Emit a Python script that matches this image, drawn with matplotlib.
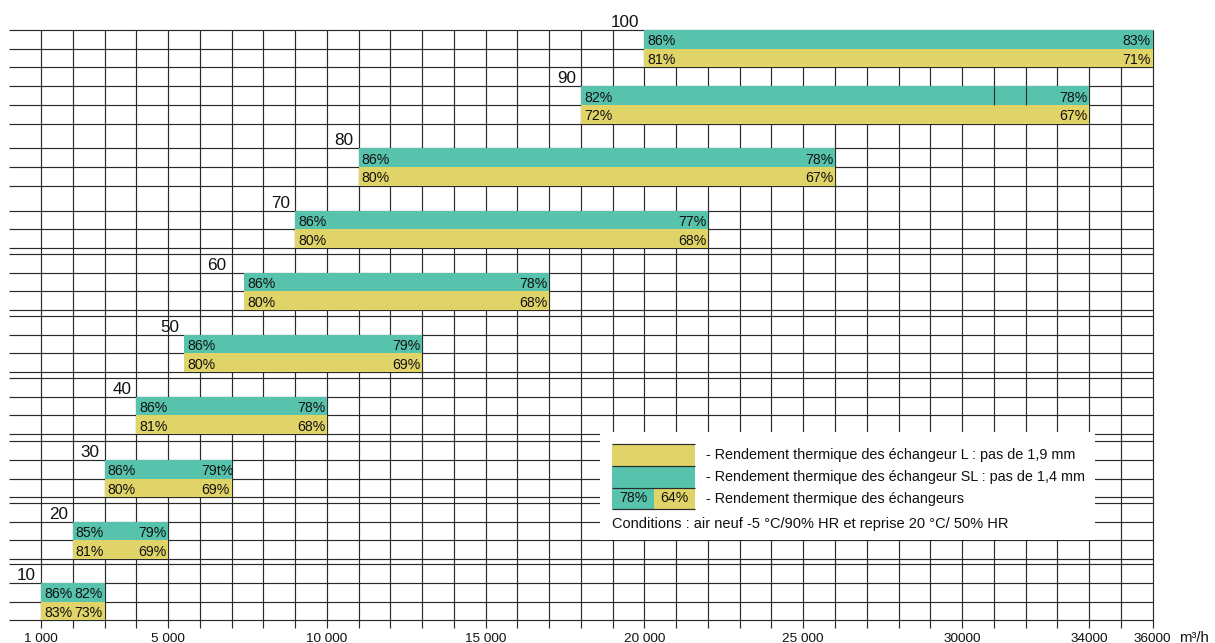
import matplotlib
matplotlib.use("Agg")
import matplotlib.pyplot as plt
from matplotlib.patches import Rectangle

plt.rcParams['font.family'] = ['Liberation Sans', 'DejaVu Sans']

# tailles de centrale et plage de débit (m3/h)
tailles = [10, 20, 30, 40, 50, 60, 70, 80, 90, 100]
debit_min = [1000, 2000, 3000, 4000, 5500, 7400, 9000, 11000, 18000, 20000]
debit_max = [3000, 5000, 7000, 10000, 13000, 17000, 22000, 26000, 34000, 36000]

# rendements échangeur SL (vert) et L (jaune) au débit min / max
sl_min = ['86%', '85%', '86%', '86%', '86%', '86%', '86%', '86%', '82%', '86%']
sl_max = ['82%', '79%', '79t%', '78%', '79%', '78%', '77%', '78%', '78%', '83%']
l_min = ['83%', '81%', '80%', '81%', '80%', '80%', '80%', '80%', '72%', '81%']
l_max = ['73%', '69%', '69%', '68%', '69%', '68%', '68%', '67%', '67%', '71%']

xticks = [1000, 5000, 10000, 15000, 20000, 25000, 30000, 34000, 36000]
xlabels = ['1 000', '5 000', '10 000', '15 000', '20 000', '25 000', '30000', '34000', '36000']

legend_txt = ['- Rendement thermique des échangeur L : pas de 1,9 mm',
              '- Rendement thermique des échangeur SL : pas de 1,4 mm',
              '- Rendement thermique des échangeurs']
conditions = 'Conditions : air neuf -5 °C/90% HR et reprise 20 °C/ 50% HR'

TEAL = '#58c3ac'
YEL = '#e0d468'
INK = '#111111'
GRID = '#2a2a2a'

W, H = 1215, 643
k = 31.76 / 1000.0          # pixels par m3/h
upp = 1.0 / k               # m3/h par pixel

# mise en page verticale (pixels depuis le haut)
row_h = 18.6
tops = [583.0, 521.7, 460.0, 396.7, 334.7, 272.7, 210.7, 148.3, 86.3, 30.0]
no_label_line = [70, 80, 90, 100]
label_at = [1000, 2000, 3000, 4000, 5500, 7000, 9000, 11000, 18000, 20000]

fig = plt.figure(figsize=(W / 100, H / 100), dpi=100)
ax = fig.add_axes([0, 0, 1, 1])
x0 = 1000 - 41 * upp
ax.set_xlim(x0, x0 + W * upp)
ax.set_ylim(H, 0)
ax.axis('off')

# grille
hl = []
for t, top in zip(tailles, tops):
    hl += [top, top + row_h, top + 2 * row_h]
    if t not in no_label_line:
        hl.append(top - row_h)
ax.hlines(hl, 0, 36000, color=GRID, lw=0.85, zorder=1)
ax.vlines(range(1000, 36001, 1000), 30, 628, color=GRID, lw=0.85, zorder=1)

# barres
largeur = [b - a for a, b in zip(debit_min, debit_max)]
ax.barh([t + row_h / 2 for t in tops], largeur, left=debit_min, height=row_h,
        color=TEAL, zorder=2)
ax.barh([t + 1.5 * row_h for t in tops], largeur, left=debit_min, height=row_h,
        color=YEL, zorder=2)

# traits de grille visibles à travers la barre 90
ax.vlines([31000, 32000], tops[8], tops[8] + row_h, color='#333333', lw=0.85, zorder=3)

for i, t in enumerate(tailles):
    top = tops[i]
    a, b = debit_min[i], debit_max[i]
    for j, (lo, hi) in enumerate([(sl_min[i], sl_max[i]), (l_min[i], l_max[i])]):
        yb = top + j * row_h + 15.3
        ax.text(a + 3 * upp, yb, lo, fontsize=10.2, color=INK, va='baseline', ha='left', zorder=4)
        ax.text(b - 30 * upp, yb, hi, fontsize=10.2, color=INK, va='baseline', ha='left', zorder=4)
    ax.text(label_at[i] - 5 * upp, top - 3, str(t), fontsize=12.3, color=INK,
            va='baseline', ha='right', zorder=4)

for v, s in zip(xticks, xlabels):
    ax.text(v, 642, s, fontsize=9.7, color=INK, ha='center', va='baseline')
ax.text(36000 + 26 * upp, 642, 'm³/h', fontsize=10.8, color=INK, ha='left', va='baseline')

# légende (coordonnées pixels)
lg = fig.add_axes([0, 0, 1, 1], zorder=5)
lg.set_xlim(0, W)
lg.set_ylim(H, 0)
lg.axis('off')
lg.add_patch(Rectangle((600, 432), 495, 108, facecolor='white', edgecolor='none'))
lg.add_patch(Rectangle((612, 444.3), 83, 21.7, facecolor=YEL, edgecolor='none'))
lg.add_patch(Rectangle((612, 466), 83, 21.5, facecolor=TEAL, edgecolor='none'))
lg.add_patch(Rectangle((612, 487.5), 42, 21.5, facecolor=TEAL, edgecolor='none'))
lg.add_patch(Rectangle((654, 487.5), 41, 21.5, facecolor=YEL, edgecolor='none'))
lg.hlines([444.3, 466, 487.5, 509], 612, 695, color=GRID, lw=0.85)
lg.text(633, 498.5, '78%', fontsize=10.2, color=INK, ha='center', va='center')
lg.text(674.5, 498.5, '64%', fontsize=10.2, color=INK, ha='center', va='center')
for y, s in zip([455, 477, 498.5], legend_txt):
    lg.text(706, y, s, fontsize=10.4, color=INK, ha='left', va='center')
lg.text(612, 524, conditions, fontsize=10.5, color=INK, ha='left', va='center')

fig.savefig('out.png', dpi=100)
